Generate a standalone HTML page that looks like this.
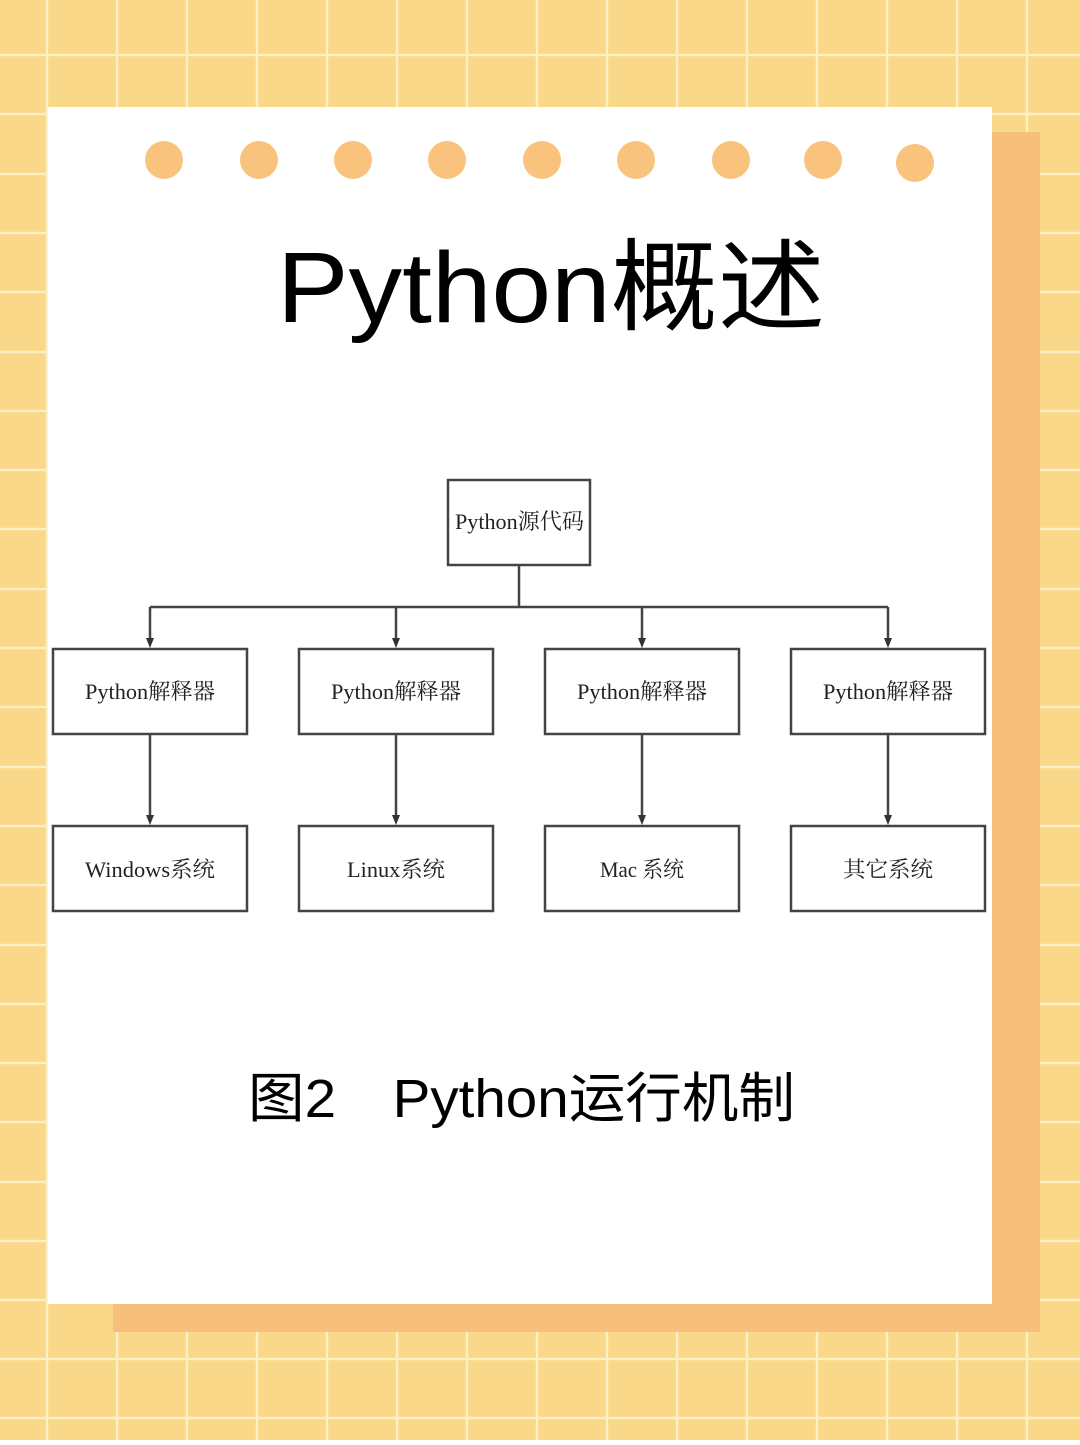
<!DOCTYPE html>
<html><head><meta charset="utf-8"><style>html,body{margin:0;padding:0;}</style></head><body>
<svg width="1080" height="1440" xmlns="http://www.w3.org/2000/svg">
<rect width="1080" height="1440" fill="#f9d88a"/>
<g stroke="#fdf0c4" stroke-width="2.5">
<line x1="47" y1="0" x2="47" y2="1440"/><line x1="117" y1="0" x2="117" y2="1440"/><line x1="187" y1="0" x2="187" y2="1440"/><line x1="257" y1="0" x2="257" y2="1440"/><line x1="327" y1="0" x2="327" y2="1440"/><line x1="397" y1="0" x2="397" y2="1440"/><line x1="467" y1="0" x2="467" y2="1440"/><line x1="537" y1="0" x2="537" y2="1440"/><line x1="607" y1="0" x2="607" y2="1440"/><line x1="677" y1="0" x2="677" y2="1440"/><line x1="747" y1="0" x2="747" y2="1440"/><line x1="817" y1="0" x2="817" y2="1440"/><line x1="887" y1="0" x2="887" y2="1440"/><line x1="957" y1="0" x2="957" y2="1440"/><line x1="1027" y1="0" x2="1027" y2="1440"/>
<line x1="0" y1="55" x2="1080" y2="55"/><line x1="0" y1="114" x2="1080" y2="114"/><line x1="0" y1="174" x2="1080" y2="174"/><line x1="0" y1="233" x2="1080" y2="233"/><line x1="0" y1="292" x2="1080" y2="292"/><line x1="0" y1="352" x2="1080" y2="352"/><line x1="0" y1="411" x2="1080" y2="411"/><line x1="0" y1="470" x2="1080" y2="470"/><line x1="0" y1="529" x2="1080" y2="529"/><line x1="0" y1="589" x2="1080" y2="589"/><line x1="0" y1="648" x2="1080" y2="648"/><line x1="0" y1="707" x2="1080" y2="707"/><line x1="0" y1="767" x2="1080" y2="767"/><line x1="0" y1="826" x2="1080" y2="826"/><line x1="0" y1="885" x2="1080" y2="885"/><line x1="0" y1="945" x2="1080" y2="945"/><line x1="0" y1="1004" x2="1080" y2="1004"/><line x1="0" y1="1063" x2="1080" y2="1063"/><line x1="0" y1="1122" x2="1080" y2="1122"/><line x1="0" y1="1182" x2="1080" y2="1182"/><line x1="0" y1="1241" x2="1080" y2="1241"/><line x1="0" y1="1300" x2="1080" y2="1300"/><line x1="0" y1="1359" x2="1080" y2="1359"/><line x1="0" y1="1418" x2="1080" y2="1418"/>
</g>
<rect x="113" y="132" width="927" height="1200" fill="#f7c07a"/>
<rect x="48" y="107" width="944" height="1197" fill="#ffffff"/>
<g fill="#f9c27d">
<circle cx="164" cy="160" r="19"/><circle cx="259" cy="160" r="19"/><circle cx="353" cy="160" r="19"/><circle cx="447" cy="160" r="19"/><circle cx="542" cy="160" r="19"/><circle cx="636" cy="160" r="19"/><circle cx="731" cy="160" r="19"/><circle cx="823" cy="160" r="19"/><circle cx="915" cy="163" r="19"/>
</g>
<text x="551" y="322" text-anchor="middle" font-family="Liberation Sans, Noto Sans CJK SC, sans-serif" font-size="100" fill="#000" textLength="548" lengthAdjust="spacingAndGlyphs">Python概述</text>
<g stroke="#444" stroke-width="2.5" fill="none">
<rect x="448" y="480" width="142" height="85"/>
<rect x="53" y="649" width="194" height="85"/><rect x="299" y="649" width="194" height="85"/><rect x="545" y="649" width="194" height="85"/><rect x="791" y="649" width="194" height="85"/>
<rect x="53" y="826" width="194" height="85"/><rect x="299" y="826" width="194" height="85"/><rect x="545" y="826" width="194" height="85"/><rect x="791" y="826" width="194" height="85"/>
<line x1="519" y1="565" x2="519" y2="607"/><line x1="150" y1="607" x2="888" y2="607"/>
<line x1="150" y1="607" x2="150" y2="640"/><line x1="396" y1="607" x2="396" y2="640"/><line x1="642" y1="607" x2="642" y2="640"/><line x1="888" y1="607" x2="888" y2="640"/>
<line x1="150" y1="734" x2="150" y2="817"/><line x1="396" y1="734" x2="396" y2="817"/><line x1="642" y1="734" x2="642" y2="817"/><line x1="888" y1="734" x2="888" y2="817"/>
</g>
<g fill="#333">
<polygon points="146,638 154,638 150,648"/><polygon points="392,638 400,638 396,648"/><polygon points="638,638 646,638 642,648"/><polygon points="884,638 892,638 888,648"/>
<polygon points="146,815 154,815 150,825"/><polygon points="392,815 400,815 396,825"/><polygon points="638,815 646,815 642,825"/><polygon points="884,815 892,815 888,825"/>
</g>
<g font-family="Liberation Serif, Noto Serif CJK SC, serif" font-size="22" fill="#222" lengthAdjust="spacingAndGlyphs">
<text x="455" y="529" textLength="129" lengthAdjust="spacingAndGlyphs">Python源代码</text>
<text x="85" y="699" textLength="130" lengthAdjust="spacingAndGlyphs">Python解释器</text><text x="331" y="699" textLength="130" lengthAdjust="spacingAndGlyphs">Python解释器</text><text x="577" y="699" textLength="130" lengthAdjust="spacingAndGlyphs">Python解释器</text><text x="823" y="699" textLength="130" lengthAdjust="spacingAndGlyphs">Python解释器</text>
<text x="85" y="877" textLength="130" lengthAdjust="spacingAndGlyphs">Windows系统</text><text x="347" y="877" textLength="98" lengthAdjust="spacingAndGlyphs">Linux系统</text><text x="600" y="877" textLength="84" lengthAdjust="spacingAndGlyphs">Mac 系统</text><text x="843" y="877" textLength="90" lengthAdjust="spacingAndGlyphs">其它系统</text>
</g>
<text x="248" y="1117" font-family="Liberation Sans, Noto Sans CJK SC, sans-serif" font-size="54" fill="#000" textLength="547" lengthAdjust="spacingAndGlyphs">图2　Python运行机制</text>
</svg>
</body></html>
